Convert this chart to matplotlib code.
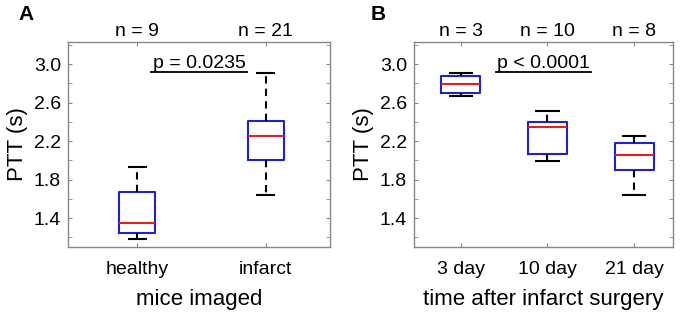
import numpy as np
import matplotlib
matplotlib.use("Agg")
import matplotlib.pyplot as plt

plt.rcParams["font.family"] = ["Liberation Sans", "DejaVu Sans"]

# panel A
a_labels = ["healthy", "infarct"]
a_n = [9, 21]
a_whislo = [1.185, 1.64]
a_q1 = [1.25, 2.00]
a_med = [1.35, 2.255]
a_q3 = [1.67, 2.41]
a_whishi = [1.935, 2.905]

# panel B
b_labels = ["3 day", "10 day", "21 day"]
b_n = [3, 10, 8]
b_whislo = [2.665, 1.99, 1.64]
b_q1 = [2.695, 2.07, 1.90]
b_med = [2.79, 2.35, 2.057]
b_q3 = [2.88, 2.40, 2.185]
b_whishi = [2.905, 2.515, 2.255]

y_ticks = [1.4, 1.8, 2.2, 2.6, 3.0]
y_minor = [1.2, 1.6, 2.0, 2.4, 2.8, 3.2]
ylim = (1.1, 3.23)

GRAY = "#888888"


def draw_panel(ax, labels, n, lo, q1, med, q3, hi, xlabel, ptext, xlim, width, capw):
    stats = []
    for i in range(len(labels)):
        stats.append(dict(whislo=lo[i], q1=q1[i], med=med[i], q3=q3[i],
                          whishi=hi[i], fliers=[]))
    pos = np.arange(1, len(labels) + 1)
    ax.bxp(stats, positions=pos, widths=width, showfliers=False,
           boxprops=dict(color="#2020d0", linewidth=1.5),
           medianprops=dict(color="#e02020", linewidth=1.5),
           whiskerprops=dict(color="black", linestyle=(0, (3.5, 2.5)), linewidth=1.5),
           capprops=dict(color="black", linewidth=1.5),
           capwidths=capw)
    ax.set_xlim(*xlim)
    ax.set_ylim(*ylim)
    ax.set_yticks(y_ticks)
    ax.set_yticklabels([f"{v:.1f}" for v in y_ticks])
    ax.set_yticks(y_minor, minor=True)
    ax.set_xticks(pos)
    ax.set_xticklabels(labels)
    ax.tick_params(axis="both", which="both", direction="in", top=True, right=True,
                   color=GRAY, length=3, labelsize=14)
    ax.tick_params(axis="x", pad=10)
    ax.tick_params(axis="y", pad=5)
    for s in ax.spines.values():
        s.set_color(GRAY)
        s.set_linewidth(1.0)
    ax.set_ylabel("PTT (s)", fontsize=16, labelpad=4)
    ax.set_xlabel(xlabel, fontsize=16, labelpad=8)
    for p, k in zip(pos, n):
        ax.text(p, 1.03, f"n = {k}", transform=ax.get_xaxis_transform(),
                ha="center", va="baseline", fontsize=14)
    ax.text(0.5, 2.96, ptext, transform=ax.get_yaxis_transform(),
            ha="center", va="baseline", fontsize=14)
    # underline under the p-value
    ax.plot([0.318, 0.682], [2.922, 2.922], transform=ax.get_yaxis_transform(),
            color="black", linewidth=1.3, clip_on=False)
    return ax


fig = plt.figure(figsize=(6.82, 3.14), dpi=100)
ax1 = fig.add_axes([68 / 682, 1 - 247 / 314, 262 / 682, 205 / 314])
ax2 = fig.add_axes([414 / 682, 1 - 247 / 314, 259 / 682, 205 / 314])

draw_panel(ax1, a_labels, a_n, a_whislo, a_q1, a_med, a_q3, a_whishi,
           "mice imaged", "p = 0.0235", (0.46, 2.5), 0.28, 0.13)
draw_panel(ax2, b_labels, b_n, b_whislo, b_q1, b_med, b_q3, b_whishi,
           "time after infarct surgery", "p < 0.0001", (0.46, 3.45), 0.45, 0.26)

fig.text(18 / 682, 1 - 14 / 314, "A", fontsize=15, fontweight="bold", va="center")
fig.text(371 / 682, 1 - 14 / 314, "B", fontsize=15, fontweight="bold", va="center")

fig.savefig("out.png", dpi=100)
